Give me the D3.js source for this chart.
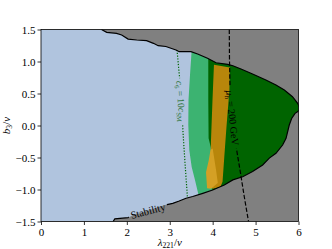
<!DOCTYPE html>
<html><head><meta charset="utf-8">
<script src="https://cdn.jsdelivr.net/npm/d3@7"></script>
<style>body{margin:0;background:#fff}svg{display:block}</style>
</head><body>
<script>
// ---------- data (λ221/v , b3/v) ----------
const xTicks = [0,1,2,3,4,5,6];
const yTicks = [-1.5,-1.0,-0.5,0.0,0.5,1.0,1.5];
const upperBoundary = [[1.41,1.5],[1.53,1.456],[1.76,1.44],[1.88,1.414],[2.03,1.35],[2.23,1.336],[2.46,1.325],[2.62,1.284],[2.73,1.247],[2.91,1.234],[3.145,1.18],[3.22,1.153],[3.495,1.153],[3.65,1.117],[3.88,1.05],[4.08,0.98],[4.35,0.956],[4.47,0.934],[4.66,0.883],[4.93,0.805],[5.24,0.71],[5.475,0.633],[5.67,0.555],[5.86,0.45],[5.98,0.347],[6.03,0.28]];
const lowerBoundary = [[6.03,0.24],[5.92,0.19],[5.84,0.11],[5.785,0.008],[5.71,-0.2],[5.63,-0.305],[5.475,-0.434],[5.32,-0.51],[5.165,-0.617],[4.93,-0.72],[4.70,-0.80],[4.47,-0.85],[4.27,-0.93],[4.0,-1.008],[3.77,-1.06],[3.535,-1.11],[3.38,-1.137],[3.22,-1.18],[3.07,-1.216],[2.91,-1.24],[2.77,-1.27],[2.46,-1.336],[2.15,-1.40],[2.03,-1.44],[1.72,-1.46],[1.68,-1.5]];
const lightGreenEdge = [[3.52,1.3],[3.511,1.18],[3.472,0.789],[3.437,0.398],[3.432,0.008],[3.455,-0.383],[3.511,-0.648],[3.588,-0.852],[3.67,-1.086],[3.73,-1.24],[3.8,-1.4]];
const darkGreenEdge = [[3.9,1.3],[3.898,1.18],[3.898,0.398],[3.905,-0.2],[3.96,-0.35],[3.98,-0.773],[3.996,-1.086],[4.007,-1.24],[4.02,-1.4]];
const orangeRegion = [[4.03,0.95],[4.40,0.905],[4.39,0.55],[4.32,-0.04],[4.27,-0.5],[4.23,-0.88],[4.18,-0.96],[4.0,-0.99],[3.95,-0.95],[3.949,-0.539],[3.961,-0.227],[3.996,0.398]];
const goldPatch = [[3.95,-0.38],[4.0,-0.36],[4.08,-0.7],[4.12,-0.9],[3.96,-0.99],[3.87,-0.98],[3.845,-0.73],[3.91,-0.54]];
const dottedContour = [[3.169,1.18],[3.227,0.758],[3.273,0.32],[3.32,-0.227],[3.367,-0.695],[3.413,-1.133]];
const dashedContour = [[4.387,1.5],[4.392,1.023],[4.404,0.633],[4.45,0.164],[4.52,-0.227],[4.567,-0.414],[4.637,-0.695],[4.73,-1.086],[4.835,-1.5]];

const W = 332, H = 249;
const m = {l:41, r:298.5, t:29.5, b:221.5};
const x = d3.scaleLinear().domain([0,6]).range([m.l, m.r]);
const y = d3.scaleLinear().domain([-1.5,1.5]).range([m.b, m.t]);
const line = d3.line().x(d=>x(d[0])).y(d=>y(d[1]));
const closed = pts => line(pts) + "Z";

const svg = d3.select("body").append("svg").attr("width",W).attr("height",H);
const defs = svg.append("defs");
defs.append("clipPath").attr("id","plot").append("rect")
  .attr("x",m.l).attr("y",m.t).attr("width",m.r-m.l).attr("height",m.b-m.t);
const stabPts = upperBoundary.concat(lowerBoundary, [[0,-1.5],[0,1.5]]);
defs.append("clipPath").attr("id","stab").append("path").attr("d", closed(stabPts));

// label placements
const labels = [
  {text:[["Stability",""]], cx:x(2.49), cy:y(-1.335), rot:-15, len:40, fs:10.5},
  {text:[["c","i"],["6","sub"],[" = 10",""],["c","i"],["SM","sub"]], cx:x(3.262), cy:y(0.38), rot:86, len:46, fs:9.5},
  {text:[["μ","i"],["h","sub"],[" = 200 GeV",""]], cx:x(4.462), cy:y(0.12), rot:84, len:62, fs:10}
];
const mask = defs.append("mask").attr("id","gaps").attr("maskUnits","userSpaceOnUse")
  .attr("x",0).attr("y",0).attr("width",W).attr("height",H);
mask.append("rect").attr("width",W).attr("height",H).attr("fill","#fff");
labels.forEach(L=>{
  mask.append("rect").attr("x",-L.len/2).attr("y",-5).attr("width",L.len).attr("height",10)
    .attr("fill","#000").attr("transform",`translate(${L.cx},${L.cy}) rotate(${L.rot})`);
});

const g = svg.append("g").attr("clip-path","url(#plot)");
g.append("rect").attr("x",m.l).attr("y",m.t).attr("width",m.r-m.l).attr("height",m.b-m.t).attr("fill","#808080");
g.append("path").attr("d",closed(stabPts)).attr("fill","#b0c4de");
const gs = g.append("g").attr("clip-path","url(#stab)");
gs.append("path").attr("d",closed(lightGreenEdge.concat([[7,-1.6],[7,1.6]]))).attr("fill","#3cb371");
gs.append("path").attr("d",closed(darkGreenEdge.concat([[7,-1.6],[7,1.6]]))).attr("fill","#006400");
gs.append("path").attr("d",closed(orangeRegion)).attr("fill","#b8860b");
gs.append("path").attr("d",closed(goldPatch)).attr("fill","#d4a025");

const gl = g.append("g").attr("mask","url(#gaps)");
gl.append("path").attr("d",line(dottedContour)).attr("fill","none").attr("stroke","#006400")
  .attr("stroke-width",1.2).attr("stroke-dasharray","1.2,1.6");
gl.append("path").attr("d",line(dashedContour)).attr("fill","none").attr("stroke","#000")
  .attr("stroke-width",1.2).attr("stroke-dasharray","4.4,2");
gl.append("path").attr("d",line(upperBoundary)).attr("fill","none").attr("stroke","#000").attr("stroke-width",1.2);
gl.append("path").attr("d",line(lowerBoundary)).attr("fill","none").attr("stroke","#000").attr("stroke-width",1.2);

const FONT = "'Liberation Serif', 'DejaVu Serif', serif";
labels.forEach((L,i)=>{
  const t = svg.append("text").attr("transform",`translate(${L.cx},${L.cy}) rotate(${L.rot})`)
    .attr("text-anchor","middle").attr("dy","0.35em").attr("font-family",FONT).attr("font-size",L.fs)
    .attr("fill", i===1 ? "#1e6e2e" : "#000");
  L.text.forEach(([s,k])=>{
    const sp = t.append("tspan").text(s);
    if(k==="i") sp.attr("font-style","italic");
    if(k==="sub") sp.attr("font-size",L.fs*0.7).attr("baseline-shift","-25%");
  });
});

// frame
svg.append("rect").attr("x",m.l).attr("y",m.t).attr("width",m.r-m.l).attr("height",m.b-m.t)
  .attr("fill","none").attr("stroke","#000").attr("stroke-width",0.8);

// axes
const fmtY = d3.format(".1f");
const ax = svg.append("g").attr("transform",`translate(0,${m.b})`)
  .call(d3.axisBottom(x).tickValues(xTicks).tickFormat(d3.format("d")).tickSize(3.5).tickPadding(3));
const ay = svg.append("g").attr("transform",`translate(${m.l},0)`)
  .call(d3.axisLeft(y).tickValues(yTicks).tickFormat(fmtY).tickSize(3.5).tickPadding(2));
[ax,ay].forEach(a=>{
  a.select(".domain").remove();
  a.selectAll(".tick line").attr("stroke","#000").attr("stroke-width",0.8);
  a.selectAll("text").attr("font-family",FONT).attr("font-size",11).attr("fill","#000");
});

// axis titles
const xt = svg.append("text").attr("x",(m.l+m.r)/2).attr("y",246).attr("text-anchor","middle")
  .attr("font-family",FONT).attr("font-size",11);
xt.append("tspan").attr("font-style","italic").text("λ");
xt.append("tspan").attr("font-size",7.7).attr("baseline-shift","-25%").text("221");
xt.append("tspan").text("/");
xt.append("tspan").attr("font-style","italic").text("v");
const yt = svg.append("text").attr("transform",`translate(10,${(m.t+m.b)/2}) rotate(-90)`).attr("text-anchor","middle")
  .attr("font-family",FONT).attr("font-size",11);
yt.append("tspan").attr("font-style","italic").text("b");
yt.append("tspan").attr("font-size",7.7).attr("baseline-shift","-25%").text("3");
yt.append("tspan").text("/");
yt.append("tspan").attr("font-style","italic").text("v");
</script>
</body></html>
